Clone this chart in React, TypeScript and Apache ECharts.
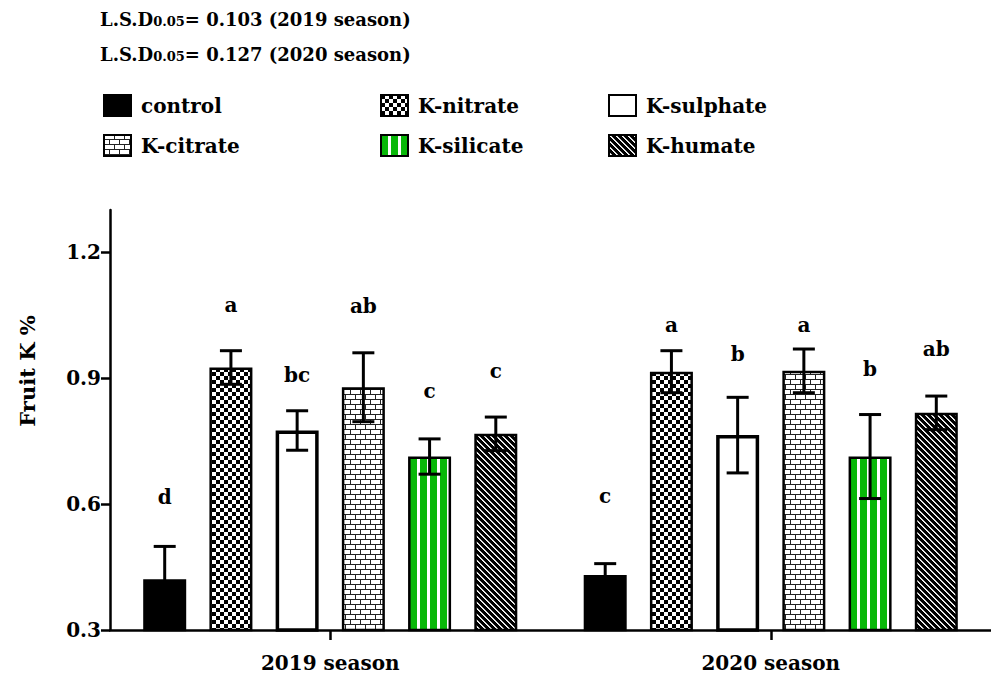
import React, { useEffect, useRef } from "react";
import * as echarts from "echarts";

const categories = ["2019 season", "2020 season"];
const treatments = ["control", "K-nitrate", "K-sulphate", "K-citrate", "K-silicate", "K-humate"];
const values2019 = [0.421, 0.925, 0.775, 0.878, 0.713, 0.767];
const values2020 = [0.431, 0.915, 0.764, 0.917, 0.713, 0.817];
const err2019 = [0.078, 0.04, 0.047, 0.082, 0.042, 0.04];
const err2020 = [0.027, 0.05, 0.09, 0.052, 0.1, 0.04];
const letters2019 = ["d", "a", "bc", "ab", "c", "c"];
const letters2020 = ["c", "a", "b", "a", "b", "ab"];
const letterY2019 = [0.616, 1.074, 0.906, 1.071, 0.868, 0.916];
const letterY2020 = [0.619, 1.026, 0.958, 1.026, 0.921, 0.97];
const yTicks = [0.3, 0.6, 0.9, 1.2];
const lsdLines = ["= 0.103 (2019 season)", "= 0.127 (2020 season)"];

const FONT = "DejaVu Serif";
const BAR_W = 43;
const BAR_GAP = 0.54;
const STEP = BAR_W * (1 + BAR_GAP);

function makeCanvas(w: number, h: number, draw: (ctx: CanvasRenderingContext2D) => void) {
  const c = document.createElement("canvas");
  c.width = w;
  c.height = h;
  const ctx = c.getContext("2d")!;
  draw(ctx);
  return c;
}

function patterns() {
  const checker = makeCanvas(8, 8, (ctx) => {
    ctx.fillStyle = "#fff";
    ctx.fillRect(0, 0, 8, 8);
    ctx.fillStyle = "#000";
    ctx.fillRect(0, 0, 4, 4);
    ctx.fillRect(4, 4, 4, 4);
  });
  const brick = makeCanvas(10, 10, (ctx) => {
    ctx.fillStyle = "#fff";
    ctx.fillRect(0, 0, 10, 10);
    ctx.fillStyle = "#222";
    ctx.fillRect(0, 4, 10, 1);
    ctx.fillRect(0, 9, 10, 1);
    ctx.fillRect(0, 0, 1, 4);
    ctx.fillRect(5, 5, 1, 4);
  });
  const stripes = makeCanvas(10, 4, (ctx) => {
    ctx.fillStyle = "#fff";
    ctx.fillRect(0, 0, 10, 4);
    ctx.fillStyle = "#08b808";
    ctx.fillRect(0, 0, 7, 4);
  });
  const diag = makeCanvas(6, 6, (ctx) => {
    const img = ctx.createImageData(6, 6);
    for (let y = 0; y < 6; y++) {
      for (let x = 0; x < 6; x++) {
        const m = (((x - y) % 6) + 6) % 6;
        const v = m === 0 ? 255 : m === 1 ? 200 : 0;
        const i = (y * 6 + x) * 4;
        img.data[i] = v;
        img.data[i + 1] = v;
        img.data[i + 2] = v;
        img.data[i + 3] = 255;
      }
    }
    ctx.putImageData(img, 0, 0);
  });
  const p = (c: HTMLCanvasElement) => ({ image: c, repeat: "repeat" });
  return ["#000", p(checker), "#fff", p(brick), p(stripes), p(diag)];
}

export default function App() {
  const ref = useRef<HTMLDivElement>(null);
  useEffect(() => {
    const chart = echarts.init(ref.current!, null, { renderer: "svg" });
    const fills = patterns();
    const bold = { fontFamily: FONT, fontWeight: "bold" as const, color: "#000" };

    const barSeries = treatments.map((name, i) => ({
      name,
      type: "bar",
      barWidth: BAR_W,
      barGap: BAR_GAP * 100 + "%",
      data: [values2019[i], values2020[i]],
      itemStyle: {
        color: fills[i],
        borderColor: "#000",
        borderWidth: i === 2 ? 3.5 : 2.5,
      },
      z: 2,
    }));

    const errRows: number[][] = [];
    const letterList: string[] = [];
    [0, 1].forEach((cat) => {
      const vals = cat === 0 ? values2019 : values2020;
      const errs = cat === 0 ? err2019 : err2020;
      const lets = cat === 0 ? letters2019 : letters2020;
      const ly = cat === 0 ? letterY2019 : letterY2020;
      treatments.forEach((_, t) => {
        errRows.push([cat, vals[t], errs[t], t, ly[t]]);
        letterList.push(lets[t]);
      });
    });

    const errSeries = {
      type: "custom",
      z: 5,
      data: errRows,
      encode: { x: 0, y: 1 },
      renderItem: (params: any, api: any) => {
        const cat = api.value(0);
        const v = api.value(1);
        const e = api.value(2);
        const t = api.value(3);
        const ly = api.value(4);
        const c = api.coord([cat, v]);
        const x = c[0] + (t - 2.5) * STEP;
        const yTop = api.coord([cat, v + e])[1];
        const yBot = api.coord([cat, v - e])[1];
        const yl = api.coord([cat, ly])[1];
        const ls = { stroke: "#000", lineWidth: 3 };
        return {
          type: "group",
          children: [
            { type: "line", shape: { x1: x, y1: yTop, x2: x, y2: yBot }, style: ls },
            { type: "line", shape: { x1: x - 11, y1: yTop, x2: x + 11, y2: yTop }, style: ls },
            { type: "line", shape: { x1: x - 11, y1: yBot, x2: x + 11, y2: yBot }, style: ls },
            {
              type: "text",
              x,
              y: yl,
              style: {
                text: letterList[params.dataIndex],
                align: "center",
                verticalAlign: "middle",
                fontFamily: FONT,
                fontWeight: "bold",
                fontSize: 20,
                fill: "#000",
              },
            },
          ],
        };
      },
    };

    const legendBase = {
      orient: "vertical",
      top: 89,
      itemWidth: 27,
      itemHeight: 21,
      itemGap: 17,
      icon: "rect",
      selectedMode: false,
      textStyle: { ...bold, fontSize: 20, padding: [0, 0, 0, 5] },
    };

    chart.setOption({
      animation: false,
      backgroundColor: "#fff",
      grid: { left: 110, right: 0, top: 210, bottom: 45 },
      legend: [
        { ...legendBase, left: 98, data: ["control", "K-citrate"] },
        { ...legendBase, left: 375, data: ["K-nitrate", "K-silicate"] },
        { ...legendBase, left: 603, data: ["K-sulphate", "K-humate"] },
      ],
      xAxis: {
        type: "category",
        data: categories,
        axisLine: { show: true, lineStyle: { color: "#000", width: 2.5 } },
        axisTick: { show: true, alignWithLabel: true, length: 10, lineStyle: { color: "#000", width: 2.5 } },
        axisLabel: { ...bold, fontSize: 20, margin: 23 },
      },
      yAxis: {
        type: "value",
        min: 0.3,
        max: 1.3,
        interval: 0.3,
        splitLine: { show: false },
        axisLine: { show: true, lineStyle: { color: "#000", width: 2.5 } },
        axisTick: { show: true, inside: false, length: 9, customValues: yTicks, lineStyle: { color: "#000", width: 2.5 } },
        axisLabel: {
          ...bold,
          fontSize: 20,
          margin: 9,
          customValues: yTicks,
          formatter: (v: number) => v.toFixed(1),
        },
      },
      graphic: [
        ...lsdLines.map((line, i) => ({
          type: "text",
          left: 100,
          top: 10 + i * 35,
          style: {
            text: "{a|L.S.D}{b|0.05}{a|" + line + "}",
            rich: {
              a: { fontFamily: FONT, fontWeight: "bold", fontSize: 18, lineHeight: 28, verticalAlign: "bottom", fill: "#000" },
              b: { fontFamily: FONT, fontWeight: "bold", fontSize: 13, lineHeight: 13, verticalAlign: "bottom", fill: "#000" },
            },
          },
        })),
        {
          type: "text",
          x: 27,
          y: 371,
          rotation: Math.PI / 2,
          style: {
            text: "Fruit K %",
            align: "center",
            verticalAlign: "middle",
            fontFamily: FONT,
            fontWeight: "bold",
            fontSize: 21,
            fill: "#000",
          },
        },
      ],
      series: [...barSeries, errSeries],
    });
    return () => chart.dispose();
  }, []);
  return <div ref={ref} style={{ position: "fixed", left: 0, top: 0, width: 991, height: 675 }} />;
}
